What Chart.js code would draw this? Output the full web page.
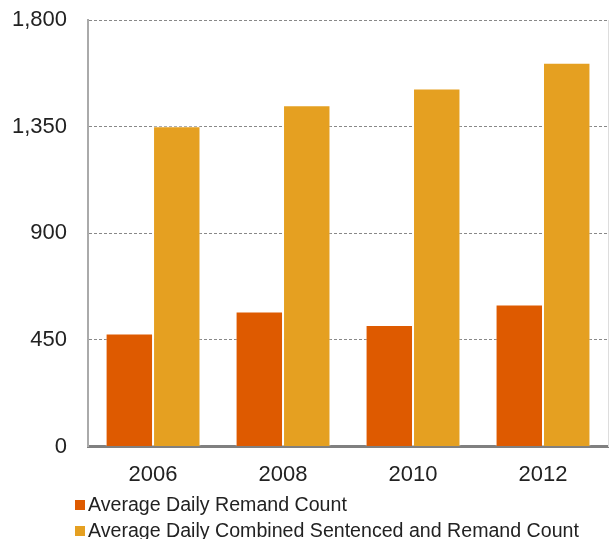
<!DOCTYPE html>
<html>
<head>
<meta charset="utf-8">
<script src="https://cdn.jsdelivr.net/npm/chart.js@4"></script>
<style>
  body { margin: 0; background: #fff; font-family: "Liberation Sans", Arial, sans-serif; }
  #wrap { position: relative; width: 609px; height: 539px; }
  #legend { position: absolute; left: 75px; top: 491px; font-size: 19.6px; color: #222; }
  #legend div { height: 26px; line-height: 26px; white-space: nowrap; }
  #legend span { display: inline-block; width: 10px; height: 10px; margin-right: 3px; vertical-align: 1px; }
</style>
</head>
<body>
<div id="wrap">
  <canvas id="chart" width="609" height="539"></canvas>
  <div id="legend"></div>
</div>
<script>
/* ---------------- DATA ---------------- */
const years = ["2006", "2008", "2010", "2012"];
const remand = [477, 570, 513, 600];
const combined = [1352, 1440, 1511, 1620];
const seriesNames = ["Average Daily Remand Count", "Average Daily Combined Sentenced and Remand Count"];
const seriesColors = ["#de5a00", "#e5a021"];

/* ---------------- CHART ---------------- */
const ctx = document.getElementById("chart");

const chart = new Chart(ctx, {
  type: "bar",
  data: {
    labels: years,
    datasets: [
      { label: seriesNames[0], data: remand, backgroundColor: seriesColors[0] },
      { label: seriesNames[1], data: combined, backgroundColor: seriesColors[1] }
    ]
  },
  options: {
    responsive: false,
    animation: false,
    layout: { padding: { top: 0, right: 1, bottom: 44, left: -9 } },
    datasets: {
      bar: {
        categoryPercentage: 0.73,
        barPercentage: 1.0,
        borderWidth: 1,
        borderColor: "rgba(255,255,255,0.55)"
      }
    },
    plugins: {
      legend: { display: false },
      tooltip: { enabled: false }
    },
    scales: {
      x: {
        grid: { display: false },
        border: { color: "#808080", width: 3 },
        ticks: { color: "#222", padding: 7, font: { family: "Liberation Sans", size: 22 } }
      },
      y: {
        min: 0,
        max: 1800,
        ticks: { stepSize: 450, color: "#222", padding: 21, font: { family: "Liberation Sans", size: 22 } },
        grid: { color: "#888", lineWidth: 1, drawTicks: false },
        border: { color: "#aaa", width: 2, dash: [3, 2] },
        // keep the top label room small so the plot starts near the top
        afterFit: s => { s.paddingTop = 20; s.paddingBottom = 0; }
      },
      y2: {
        position: "right",
        min: 0,
        max: 1800,
        grid: { display: false, drawTicks: false },
        ticks: { display: false },
        border: { color: "#ddd", width: 1 }
      }
    }
  }
});

/* ---------------- LEGEND ---------------- */
const legend = document.getElementById("legend");
chart.data.datasets.forEach(d => {
  legend.innerHTML += `<div><span style="background:${d.backgroundColor}"></span>${d.label}</div>`;
});
</script>
</body>
</html>
